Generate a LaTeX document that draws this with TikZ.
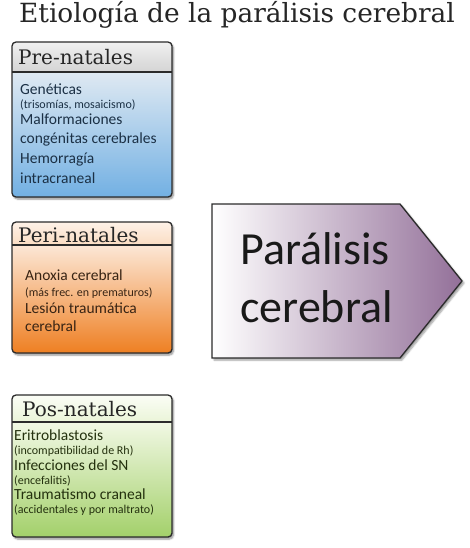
\documentclass[tikz,border=0pt]{standalone}
\usepackage{fontspec}
\setsansfont{Carlito}
\newfontfamily\headfont{DejaVu Serif}
\usetikzlibrary{shadows.blur}
\definecolor{predark}{HTML}{1B3045}
\definecolor{peridark}{HTML}{382414}
\definecolor{posdark}{HTML}{24310E}
\definecolor{edge}{HTML}{2B2B2B}
\definecolor{preTop}{HTML}{DFE9F2}
\definecolor{preBot}{HTML}{72B0E3}
\definecolor{preHTop}{HTML}{F0F0F0}
\definecolor{preHBot}{HTML}{D4D4D4}
\definecolor{periTop}{HTML}{FCE7D6}
\definecolor{periBot}{HTML}{EE7F22}
\definecolor{periHTop}{HTML}{FEF2E8}
\definecolor{periHBot}{HTML}{FADCC2}
\definecolor{posTop}{HTML}{F1F8E4}
\definecolor{posBot}{HTML}{A3D06A}
\definecolor{posHTop}{HTML}{FBFDF6}
\definecolor{posHBot}{HTML}{EAF4D8}
\definecolor{arrowRight}{HTML}{937099}
\tikzset{
  x=1pt, y=-1pt,
  big/.style={anchor=base west, inner sep=0pt, font=\sffamily\fontsize{15.5}{18}\selectfont},
  small/.style={anchor=base west, inner sep=0pt, font=\sffamily\fontsize{12}{14}\selectfont},
  head/.style={anchor=base west, inner sep=0pt, font=\headfont\fontsize{20}{24}\selectfont, text=black!85},
  boxedge/.style={draw=edge, line width=1.3pt, rounded corners=4pt},
  shadowbox/.style={fill=white, rounded corners=4pt, blur shadow={shadow xshift=1.5pt, shadow yshift=-2pt, shadow blur steps=6, shadow opacity=45}},
}
\begin{document}
\begin{tikzpicture}
\useasboundingbox (0,0) rectangle (470,548);
% title
\node[anchor=base, inner sep=0pt, font=\headfont\fontsize{26.4}{30}\selectfont, text=black!85] (title) at (237,23) {Etiología de la parálisis cerebral};

% ---------- Pre-natales
\path[shadowbox] (12,42) rectangle (172,197);
\begin{scope}
  \clip[rounded corners=4pt] (12,42) rectangle (172,197);
  \shade[top color=preTop, bottom color=preBot] (12,72) rectangle (172,197);
  \shade[top color=preHTop, bottom color=preHBot] (12,42) rectangle (172,72);
\end{scope}
\draw[edge, line width=1.2pt] (12,72) -- (172,72);
\draw[boxedge] (12,42) rectangle (172,197);
\node[head] (prehead) at (18,65) {Pre-natales};
\node[big, text=predark] (pre1) at (20,95) {Genéticas};
\node[small, text=predark] (pre2) at (20,109) {(trisomías, mosaicismo)};
\node[big, text=predark] (pre3) at (20,125) {Malformaciones};
\node[big, text=predark] (pre4) at (20,144) {congénitas cerebrales};
\node[big, text=predark] (pre5) at (20,164) {Hemorragía};
\node[big, text=predark] (pre6) at (20,183) {intracraneal};

% ---------- Peri-natales
\path[shadowbox] (12,222) rectangle (172,353);
\begin{scope}
  \clip[rounded corners=4pt] (12,222) rectangle (172,353);
  \shade[top color=periTop, bottom color=periBot] (12,245) rectangle (172,353);
  \shade[top color=periHTop, bottom color=periHBot] (12,222) rectangle (172,245);
\end{scope}
\draw[edge, line width=1.2pt] (12,245) -- (172,245);
\draw[boxedge] (12,222) rectangle (172,353);
\node[head] (perihead) at (18,242) {Peri-natales};
\node[big, text=peridark] (peri1) at (25,280) {Anoxia cerebral};
\node[small, text=peridark] (peri2) at (25,296) {(más frec. en prematuros)};
\node[big, text=peridark] (peri3) at (25,313) {Lesión traumática};
\node[big, text=peridark] (peri4) at (25,331) {cerebral};

% ---------- Pos-natales
\path[shadowbox] (12,395) rectangle (172,537);
\begin{scope}
  \clip[rounded corners=4pt] (12,395) rectangle (172,537);
  \shade[top color=posTop, bottom color=posBot] (12,422) rectangle (172,537);
  \shade[top color=posHTop, bottom color=posHBot] (12,395) rectangle (172,422);
\end{scope}
\draw[edge, line width=1.2pt] (12,422) -- (172,422);
\draw[boxedge] (12,395) rectangle (172,537);
\node[head] (poshead) at (22,416) {Pos-natales};
\node[big, text=posdark] (pos1) at (14,440) {Eritroblastosis};
\node[small, text=posdark] (pos2) at (14,454) {(incompatibilidad de Rh)};
\node[big, text=posdark] (pos3) at (14,470) {Infecciones del SN};
\node[small, text=posdark] (pos4) at (14,484) {(encefalitis)};
\node[big, text=posdark] (pos5) at (14,499) {Traumatismo craneal};
\node[small, text=posdark] (pos6) at (14,513) {(accidentales y por maltrato)};

% ---------- arrow
\path[fill=white, blur shadow={shadow xshift=2pt, shadow yshift=-2pt, shadow blur steps=6, shadow opacity=40}]
  (212,204) -- (400,204) -- (462,281) -- (400,358) -- (212,358) -- cycle;
\shade[left color=white, right color=arrowRight]
  (212,204) -- (400,204) -- (462,281) -- (400,358) -- (212,358) -- cycle;
\draw[edge, line width=1.3pt, line join=miter]
  (212,204) -- (400,204) -- (462,281) -- (400,358) -- (212,358) -- cycle;
\node[anchor=base west, inner sep=0pt, font=\sffamily\fontsize{46}{50}\selectfont, text=black!90] (pc1) at (240,264) {Parálisis};
\node[anchor=base west, inner sep=0pt, font=\sffamily\fontsize{46}{50}\selectfont, text=black!90] (pc2) at (240,322) {cerebral};
\end{tikzpicture}
\end{document}
